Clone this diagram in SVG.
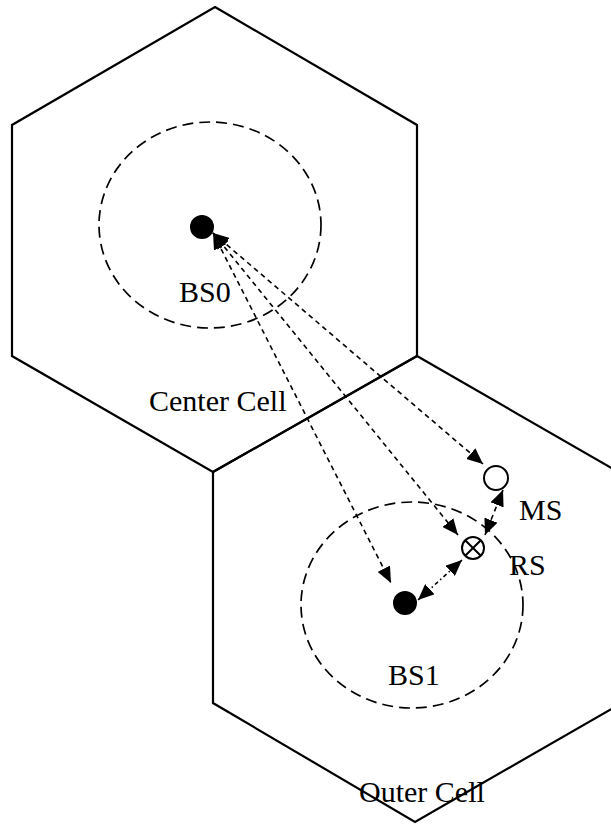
<svg xmlns="http://www.w3.org/2000/svg" width="611" height="825" viewBox="0 0 611 825">
  <style>
    .hex { fill: none; stroke: #000; stroke-width: 2.2; stroke-linejoin: miter; }
    .range { fill: none; stroke: #000; stroke-width: 1.7; stroke-dasharray: 11 6; }
    .link { fill: none; stroke: #000; stroke-width: 1.6; stroke-dasharray: 5 4; }
    .relay { fill: none; stroke: #000; stroke-width: 1.6; stroke-dasharray: 4 3 1.5 3; }
    .bs { fill: #000; }
    .ms { fill: #fff; stroke: #000; stroke-width: 2; }
    .label { font-family: "Liberation Serif", "Times New Roman", serif; font-size: 30px; fill: #000; }
  </style>
  <defs>
    <marker id="arrow" viewBox="0 0 16 14" refX="16" refY="7" markerWidth="16" markerHeight="14" markerUnits="userSpaceOnUse" orient="auto-start-reverse">
      <path d="M0,0 L16,7 L0,14 z" fill="#000"/>
    </marker>
  </defs>

  <!-- cells -->
  <g id="center-cell">
    <polygon class="hex" points="215,7 417,125 417,356 213,472 12,356 12,125"/>
    <ellipse class="range" cx="210" cy="225" rx="111" ry="103"/>
    <text class="label" x="149" y="411">Center Cell</text>
  </g>
  <g id="outer-cell">
    <polygon class="hex" points="417,356 620,473 620,704 415,822 213,703 213,472"/>
    <ellipse class="range" cx="412" cy="605" rx="111" ry="103"/>
    <text class="label" x="359" y="802">Outer Cell</text>
  </g>

  <!-- stations -->
  <g id="bs0">
    <circle class="bs" cx="202" cy="227" r="12"/>
    <text class="label" x="179" y="302">BS0</text>
  </g>
  <g id="bs1">
    <circle class="bs" cx="405" cy="603" r="12"/>
    <text class="label" x="388" y="685">BS1</text>
  </g>
  <g id="ms">
    <circle class="ms" cx="496" cy="478" r="12"/>
    <text class="label" x="519" y="520">MS</text>
  </g>
  <g id="rs">
    <circle class="ms" cx="473" cy="548" r="11"/>
    <path d="M465.2,540.2 L480.8,555.8 M480.8,540.2 L465.2,555.8" stroke="#000" stroke-width="2"/>
    <text class="label" x="509" y="575">RS</text>
  </g>

  <!-- links -->
  <g id="connectors">
    <line class="link" x1="213" y1="233" x2="391" y2="583" marker-start="url(#arrow)" marker-end="url(#arrow)"/>
    <line class="link" x1="213" y1="233" x2="458" y2="535" marker-start="url(#arrow)" marker-end="url(#arrow)"/>
    <line class="link" x1="213" y1="233" x2="483" y2="464" marker-start="url(#arrow)" marker-end="url(#arrow)"/>
    <line class="link" x1="503" y1="490" x2="485" y2="535" marker-start="url(#arrow)" marker-end="url(#arrow)"/>
    <line class="relay" x1="418" y1="600" x2="462" y2="560" marker-start="url(#arrow)" marker-end="url(#arrow)"/>
  </g>
</svg>
